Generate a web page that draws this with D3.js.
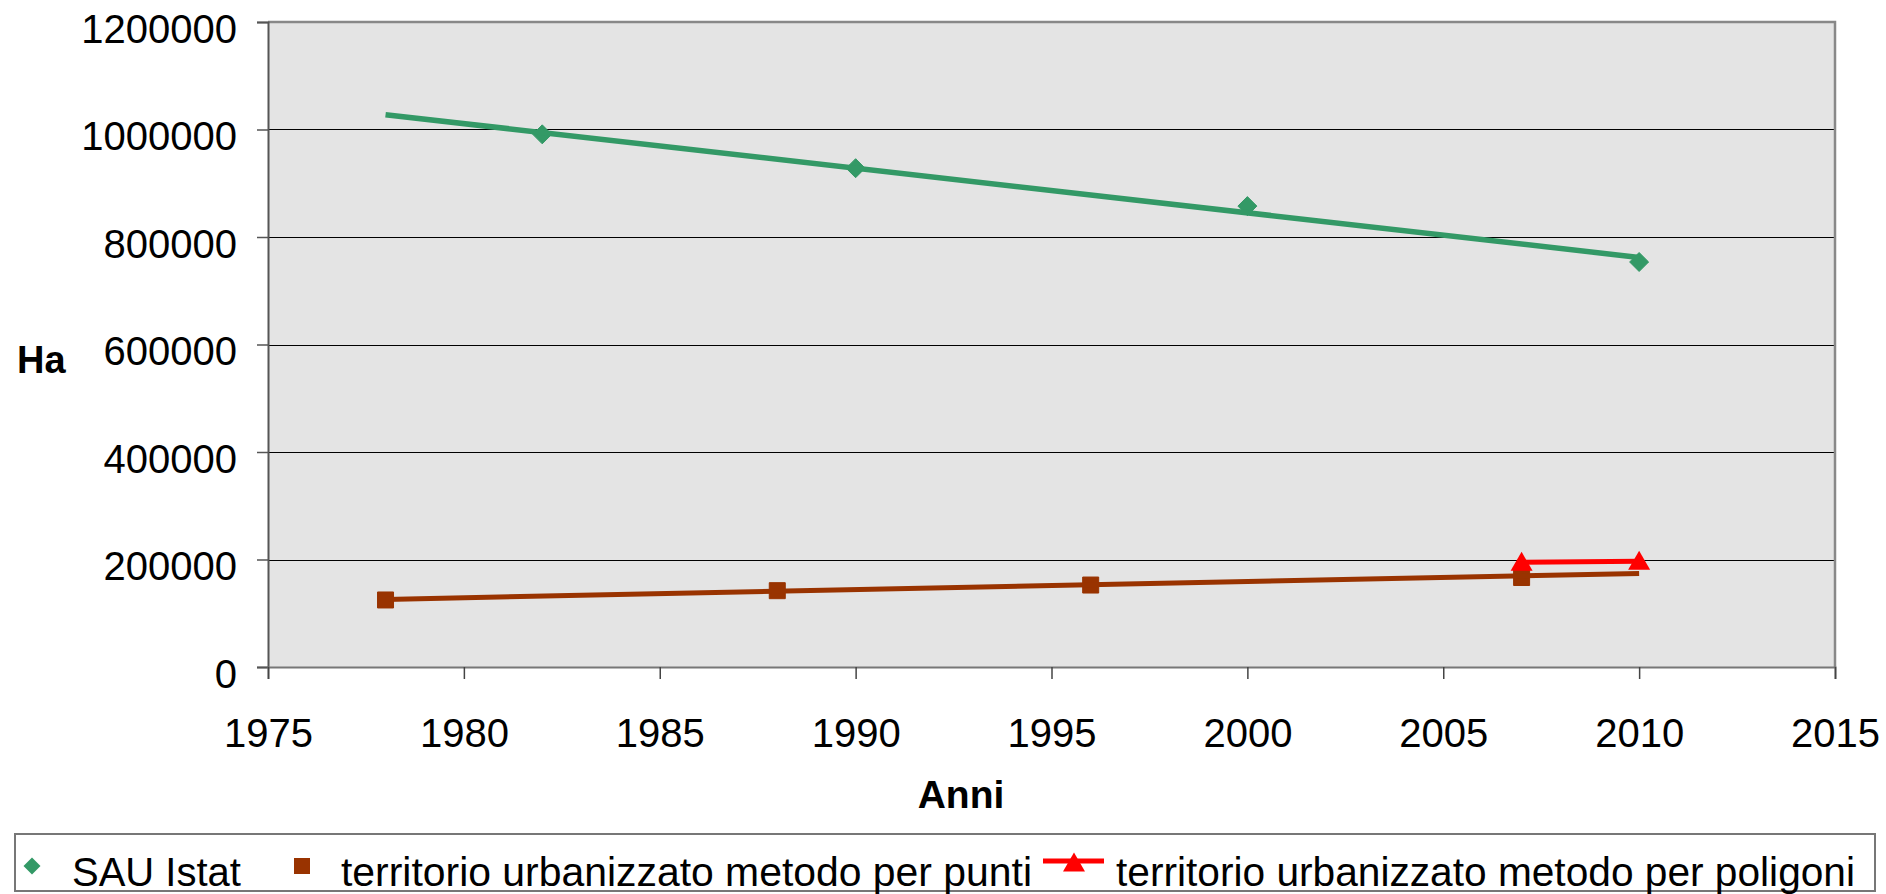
<!DOCTYPE html>
<html>
<head>
<meta charset="utf-8">
<script src="https://cdn.jsdelivr.net/npm/d3@7"></script>
<style>
  html, body { margin: 0; padding: 0; background: #fff; }
  svg { display: block; font-family: "Liberation Sans", Arial, sans-serif; }
</style>
</head>
<body>
<svg id="chart" width="1886" height="894"></svg>
<script>
// ---- data ----
const sauYears = [1982, 1990, 2000, 2010];
const sauValues = [991000, 928000, 857500, 753500];

const puntiYears = [1978, 1988, 1996, 2007];
const puntiValues = [124700, 142000, 152500, 166500];

const poligoniYears = [2007, 2010];
const poligoniValues = [194800, 196800];

// linear trendlines (start / end)
const sauTrendYears = [1978, 2010];
const sauTrendValues = [1027500, 762000];
const puntiTrendYears = [1978, 2010];
const puntiTrendValues = [125800, 174000];

const yTicks = [0, 200000, 400000, 600000, 800000, 1000000, 1200000];
const xTicks = [1975, 1980, 1985, 1990, 1995, 2000, 2005, 2010, 2015];

const seriesNames = ["SAU Istat", "territorio urbanizzato metodo per punti", "territorio urbanizzato metodo per poligoni"];
const xTitle = "Anni";
const yTitle = "Ha";

// ---- layout ----
const svg = d3.select("#chart");
const L = 268, R = 1835, T = 22, B = 667;
const x = d3.scaleLinear().domain([1975, 2015]).range([L, R]);
const y = d3.scaleLinear().domain([0, 1200000]).range([B, T]);

const GREEN = "#339966", BROWN = "#993300", RED = "#ff0000";

// plot background
svg.append("rect").attr("x", L).attr("y", T).attr("width", R - L).attr("height", B - T)
  .attr("fill", "#e4e4e4");

// gridlines
svg.append("g").selectAll("line").data(yTicks.filter(d => d > 0 && d < 1200000)).join("line")
  .attr("x1", L).attr("x2", R)
  .attr("y1", d => Math.round(y(d)) + 0.5).attr("y2", d => Math.round(y(d)) + 0.5)
  .attr("stroke", "#000").attr("stroke-width", 1.2);

// border top / right
svg.append("path")
  .attr("d", `M${L},${T}H${R}V${B}`)
  .attr("fill", "none").attr("stroke", "#888").attr("stroke-width", 2.5);

// y axis
const yAxis = svg.append("g").attr("transform", `translate(${L},0)`)
  .call(d3.axisLeft(y).tickValues(yTicks).tickSize(11).tickPadding(20).tickFormat(d3.format("d")));
yAxis.select(".domain").attr("stroke", "#555").attr("stroke-width", 2);
yAxis.selectAll(".tick line").attr("stroke", "#555").attr("stroke-width", 1.5);
yAxis.selectAll("text").attr("font-size", 40).attr("fill", "#000")
  .attr("dy", "20px").attr("font-family", "Liberation Sans, Arial, sans-serif");

// x axis
const xAxis = svg.append("g").attr("transform", `translate(0,${B})`)
  .call(d3.axisBottom(x).tickValues(xTicks).tickSize(12).tickFormat(d3.format("d")));
xAxis.select(".domain").attr("stroke", "#777").attr("stroke-width", 2);
xAxis.selectAll(".tick line").attr("stroke", "#444").attr("stroke-width", 1.5);
xAxis.selectAll("text").attr("font-size", 40).attr("fill", "#000")
  .attr("y", 80).attr("dy", 0).attr("font-family", "Liberation Sans, Arial, sans-serif");

// axis titles
svg.append("text").attr("x", 961).attr("y", 808).attr("text-anchor", "middle")
  .attr("font-size", 39).attr("font-weight", "bold").text(xTitle);
svg.append("text").attr("x", 17).attr("y", 373)
  .attr("font-size", 38).attr("font-weight", "bold").text(yTitle);

// symbols
const diamond = s => `M0,${-s}L${s},0L0,${s}L${-s},0Z`;
const square = s => `M${-s},${-s}H${s}V${s}H${-s}Z`;
const triangle = s => `M0,${-s * 1.05}L${s * 1.1},${s * 0.85}H${-s * 1.1}Z`;

const line = d3.line().x(d => x(d[0])).y(d => y(d[1]));

// series: SAU markers
svg.append("g").selectAll("path").data(d3.zip(sauYears, sauValues)).join("path")
  .attr("transform", d => `translate(${x(d[0])},${y(d[1])})`)
  .attr("d", diamond(9.5)).attr("fill", GREEN).attr("stroke", GREEN).attr("stroke-width", 1).attr("stroke-linejoin", "round");

// series: punti markers
svg.append("g").selectAll("path").data(d3.zip(puntiYears, puntiValues)).join("path")
  .attr("transform", d => `translate(${x(d[0])},${y(d[1])})`)
  .attr("d", square(8)).attr("fill", BROWN).attr("stroke", BROWN).attr("stroke-width", 1).attr("stroke-linejoin", "round");

// series: poligoni line + markers
svg.append("path").datum(d3.zip(poligoniYears, poligoniValues))
  .attr("d", line).attr("fill", "none").attr("stroke", RED).attr("stroke-width", 5);
svg.append("g").selectAll("path").data(d3.zip(poligoniYears, poligoniValues)).join("path")
  .attr("transform", d => `translate(${x(d[0])},${y(d[1])})`)
  .attr("d", triangle(10)).attr("fill", RED);

// trendlines (on top)
svg.append("path").datum(d3.zip(sauTrendYears, sauTrendValues))
  .attr("d", line).attr("fill", "none").attr("stroke", GREEN).attr("stroke-width", 5.5);
svg.append("path").datum(d3.zip(puntiTrendYears, puntiTrendValues))
  .attr("d", line).attr("fill", "none").attr("stroke", BROWN).attr("stroke-width", 5);

// legend
const lg = svg.append("g");
lg.append("rect").attr("x", 15).attr("y", 834).attr("width", 1860).attr("height", 57)
  .attr("fill", "#fff").attr("stroke", "#777").attr("stroke-width", 2);
lg.append("path").attr("transform", "translate(32,866)").attr("d", diamond(8.5)).attr("fill", GREEN);
lg.append("text").attr("x", 72).attr("y", 886).attr("font-size", 40).text(seriesNames[0]);
lg.append("path").attr("transform", "translate(302,866)").attr("d", square(8)).attr("fill", BROWN);
lg.append("text").attr("x", 341).attr("y", 886).attr("font-size", 40)
  .attr("textLength", 691).attr("lengthAdjust", "spacingAndGlyphs").text(seriesNames[1]);
lg.append("line").attr("x1", 1043).attr("x2", 1104).attr("y1", 861).attr("y2", 861)
  .attr("stroke", RED).attr("stroke-width", 5);
lg.append("path").attr("transform", "translate(1074,863)").attr("d", triangle(10)).attr("fill", RED);
lg.append("text").attr("x", 1116).attr("y", 886).attr("font-size", 40)
  .attr("textLength", 739).attr("lengthAdjust", "spacingAndGlyphs").text(seriesNames[2]);
</script>
</body>
</html>
